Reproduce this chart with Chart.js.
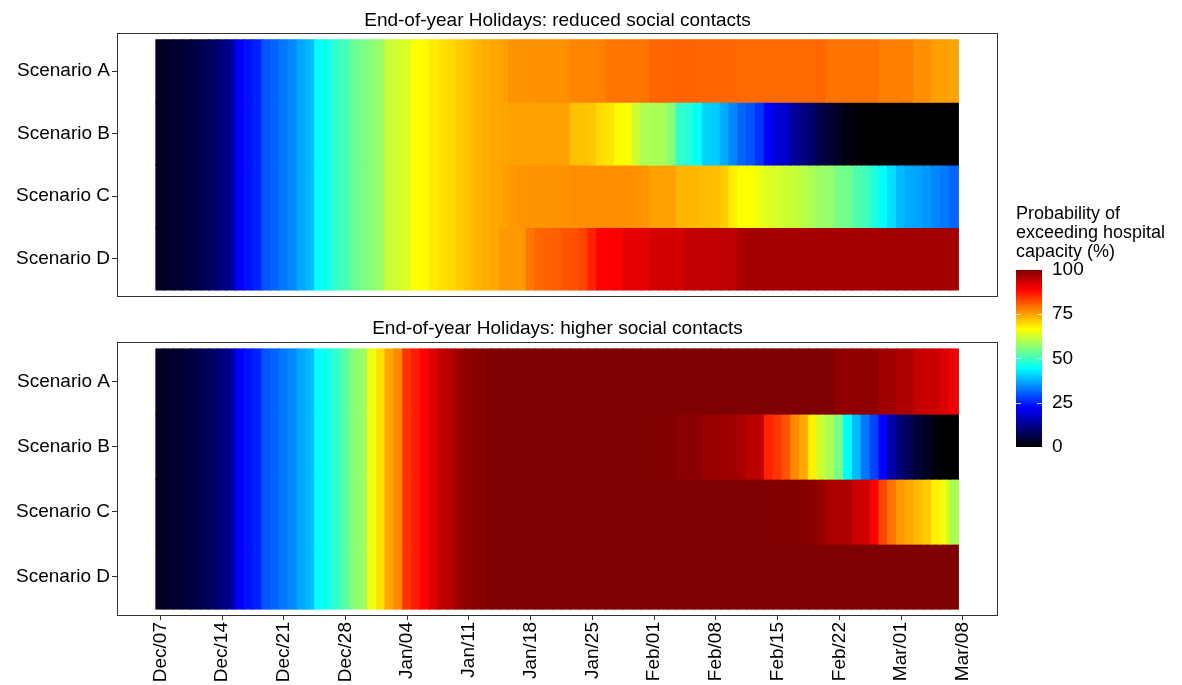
<!DOCTYPE html>
<html>
<head>
<meta charset="utf-8">
<title>Probability of exceeding hospital capacity</title>
<script src="https://cdn.jsdelivr.net/npm/chart.js@4.4.0/dist/chart.umd.min.js"></script>
<style>
  body { margin: 0; background: #fff; }
  #wrap { position: relative; width: 1182px; height: 685px; }
  .box { position: absolute; }
</style>
</head>
<body>
<div id="wrap">
  <div class="box" style="left:0;top:0;width:1000px;height:310px"><canvas id="topChart"></canvas></div>
  <div class="box" style="left:0;top:310px;width:1000px;height:375px"><canvas id="bottomChart"></canvas></div>
  <div class="box" style="left:1000px;top:190px;width:182px;height:280px"><canvas id="legendChart"></canvas></div>
</div>
<script>
"use strict";

let scenarios = ['Scenario A', 'Scenario B', 'Scenario C', 'Scenario D'];
let tickDays = [0, 7, 14, 21, 28, 35, 42, 49, 56, 63, 70, 77, 84, 91];
let tickLabels = ['Dec/07', 'Dec/14', 'Dec/21', 'Dec/28', 'Jan/04', 'Jan/11', 'Jan/18', 'Jan/25', 'Feb/01', 'Feb/08', 'Feb/15', 'Feb/22', 'Mar/01', 'Mar/08'];
let legendTicks = [0, 25, 50, 75, 100];

// one value per day, Dec 07 .. Mar 07
let reducedA = [
  3.0, 3.5, 4.0, 5.0, 5.6, 7.4, 8.4,
  11.1, 13.0, 21.5, 23.7, 25.0, 29.6, 31.0,
  32.8, 34.0, 37.0, 38.5, 44.5, 45.9, 48.9,
  50.4, 53.4, 54.9, 56.3, 57.8, 62.2, 62.5,
  63.7, 66.7, 67.0, 68.5, 69.3, 69.8, 71.0,
  72.0, 73.2, 73.8, 74.2, 74.9, 76.1, 76.1,
  76.1, 76.2, 76.2, 76.2, 76.3, 77.3, 77.3,
  77.3, 77.3, 78.5, 78.5, 78.5, 78.6, 78.6,
  80.0, 80.0, 80.0, 80.1, 80.1, 80.0, 80.0,
  80.0, 80.0, 80.0, 79.6, 79.6, 79.6, 79.6,
  79.6, 79.6, 79.6, 79.6, 79.7, 80.0, 78.7,
  78.7, 78.7, 78.7, 78.7, 78.7, 77.7, 77.7,
  77.7, 77.7, 76.3, 76.3, 75.0, 75.0, 74.5
];
let reducedB = [
  3.0, 3.5, 4.0, 5.0, 5.6, 7.4, 8.4,
  11.1, 13.0, 21.5, 23.7, 25.0, 29.6, 31.0,
  32.8, 34.0, 37.0, 38.5, 44.5, 45.9, 48.9,
  50.4, 53.4, 54.9, 56.3, 57.8, 62.2, 62.5,
  63.7, 66.7, 67.0, 68.5, 69.3, 69.8, 71.0,
  72.0, 73.2, 73.8, 74.2, 74.5, 74.7, 74.8,
  74.8, 74.8, 74.8, 74.8, 74.8, 72.1, 72.0,
  71.5, 69.6, 69.0, 67.0, 66.5, 62.2, 59.5,
  59.3, 59.0, 56.3, 48.9, 47.4, 44.5, 40.5,
  40.0, 37.3, 34.0, 31.1, 29.6, 26.7, 22.2,
  19.3, 17.5, 13.4, 11.2, 8.9, 6.0, 4.5,
  3.0, 1.5, 0.5, 0.3, 0, 0, 0,
  0, 0, 0, 0, 0, 0, 0
];
let reducedC = [
  3.0, 3.5, 4.0, 5.0, 5.6, 7.4, 8.4,
  11.1, 13.0, 21.5, 23.7, 25.0, 29.6, 31.0,
  32.8, 34.0, 37.0, 38.5, 44.5, 45.9, 48.9,
  50.4, 53.4, 54.9, 56.3, 57.8, 62.2, 62.5,
  63.7, 66.7, 67.0, 68.5, 69.3, 69.8, 71.0,
  72.0, 73.2, 73.8, 74.2, 75.0, 75.5, 75.8,
  76.0, 76.0, 76.0, 76.0, 76.0, 76.5, 76.5,
  76.5, 76.5, 76.5, 76.5, 76.5, 76.0, 76.0,
  75.0, 75.0, 75.0, 73.2, 73.0, 72.8, 72.5,
  72.3, 71.1, 68.0, 66.7, 66.5, 65.2, 63.7,
  63.5, 62.2, 62.0, 60.8, 59.3, 57.8, 57.5,
  54.9, 54.5, 51.9, 50.4, 47.4, 44.4, 41.5,
  38.5, 37.0, 36.5, 35.5, 34.0, 32.6, 31.1
];
let reducedD = [
  3.0, 3.5, 4.0, 5.0, 5.6, 7.4, 8.4,
  11.1, 13.0, 21.5, 23.7, 25.0, 29.6, 31.0,
  32.8, 34.0, 37.0, 38.5, 44.5, 45.9, 48.9,
  50.4, 53.4, 54.9, 56.3, 57.8, 62.2, 62.5,
  63.7, 66.7, 67.0, 68.5, 69.3, 69.8, 71.0,
  72.0, 73.2, 73.8, 74.2, 75.5, 75.5, 75.5,
  78.5, 80.0, 80.2, 80.5, 81.5, 81.8, 82.9,
  85.9, 88.9, 89.0, 89.3, 91.1, 91.1, 91.2,
  92.6, 92.6, 92.7, 92.7, 94.4, 94.4, 94.4,
  94.5, 94.5, 94.5, 96.4, 96.4, 96.4, 96.4,
  96.4, 96.4, 96.4, 96.4, 96.4, 96.4, 96.4,
  96.4, 96.4, 96.4, 96.4, 96.4, 96.9, 96.9,
  96.9, 96.9, 96.9, 96.9, 96.9, 96.9, 96.9
];

let higherA = [
  3.0, 3.5, 4.0, 5.0, 5.6, 7.4, 8.4,
  11.1, 13.0, 21.5, 23.7, 25.0, 29.6, 31.0,
  32.8, 34.0, 37.0, 38.5, 44.5, 45.9, 48.9,
  51.9, 56.3, 57.8, 65.2, 69.4, 74.1, 77.0,
  84.4, 86.5, 88.9, 91.8, 94.4, 95.3, 97.7,
  98.4, 99.2, 99.6, 100, 100, 100, 100,
  100, 100, 100, 100, 100, 100, 100,
  100, 100, 100, 100, 100, 100, 100,
  100, 100, 100, 100, 100, 100, 100,
  100, 100, 100, 100, 100, 100, 100,
  100, 100, 100, 100, 100, 100, 100,
  98.5, 98.5, 98.5, 98.5, 98.5, 97.1, 97.1,
  96.3, 96.3, 94.0, 93.5, 93.3, 91.8, 90.2
];
let higherB = [
  3.0, 3.5, 4.0, 5.0, 5.6, 7.4, 8.4,
  11.1, 13.0, 21.5, 23.7, 25.0, 29.6, 31.0,
  32.8, 34.0, 37.0, 38.5, 44.5, 45.9, 48.9,
  51.9, 56.3, 57.8, 65.2, 69.4, 74.1, 77.0,
  84.4, 86.5, 88.9, 91.8, 94.4, 95.3, 97.7,
  98.4, 99.2, 99.6, 100, 100, 100, 100,
  100, 100, 100, 100, 100, 100, 100,
  100, 100, 100, 100, 100, 100, 100,
  99.7, 99.7, 99.7, 99.0, 99.0, 99.0, 97.7,
  97.7, 97.5, 97.1, 96.3, 94.8, 94.5, 85.9,
  84.4, 81.5, 77.0, 74.1, 68.0, 62.2, 59.3,
  54.9, 44.4, 38.5, 32.6, 28.1, 22.2, 14.8,
  10.4, 7.4, 4.5, 3.0, 0.8, 0, 0
];
let higherC = [
  3.0, 3.5, 4.0, 5.0, 5.6, 7.4, 8.4,
  11.1, 13.0, 21.5, 23.7, 25.0, 29.6, 31.0,
  32.8, 34.0, 37.0, 38.5, 44.5, 45.9, 48.9,
  51.9, 56.3, 57.8, 65.2, 69.4, 74.1, 77.0,
  84.4, 86.5, 88.9, 91.8, 94.4, 95.3, 97.7,
  98.4, 99.2, 99.6, 100, 100, 100, 100,
  100, 100, 100, 100, 100, 100, 100,
  100, 100, 100, 100, 100, 100, 100,
  100, 100, 100, 100, 100, 100, 100,
  100, 100, 100, 100, 100, 100, 100,
  99.6, 99.6, 99.6, 99.6, 99.2, 97.7, 96.3,
  96.3, 96.0, 93.5, 93.0, 89.5, 82.9, 78.5,
  75.5, 74.1, 72.6, 71.1, 68.0, 65.2, 59.3
];
let higherD = [
  3.0, 3.5, 4.0, 5.0, 5.6, 7.4, 8.4,
  11.1, 13.0, 21.5, 23.7, 25.0, 29.6, 31.0,
  32.8, 34.0, 37.0, 38.5, 44.5, 45.9, 48.9,
  51.9, 56.3, 57.8, 65.2, 69.4, 74.1, 77.0,
  84.4, 86.5, 88.9, 91.8, 94.4, 95.3, 97.7,
  98.4, 99.2, 99.6, 100, 100, 100, 100,
  100, 100, 100, 100, 100, 100, 100,
  100, 100, 100, 100, 100, 100, 100,
  100, 100, 100, 100, 100, 100, 100,
  100, 100, 100, 100, 100, 100, 100,
  100, 100, 100, 100, 100, 100, 100,
  100, 100, 100, 100, 100, 100, 100,
  100, 100, 100, 100, 100, 100, 100
];

// black + jet palette
let stopValues = [0, 11.11, 22.22, 33.33, 44.44, 55.56, 66.67, 77.78, 88.89, 100];
let stopColors = ['#000000', '#00007F', '#0000FF', '#007FFF', '#00FFFF', '#7FFF7F', '#FFFF00', '#FF7F00', '#FF0000', '#7F0000'];

let fontFamily = '"Liberation Sans", Arial, sans-serif';

function hexToRgb(hex){
    return [parseInt(hex.slice(1, 3), 16), parseInt(hex.slice(3, 5), 16), parseInt(hex.slice(5, 7), 16)];
}

function valueColor(v){
    for (let k = 1; k < stopValues.length; k++){
        if (v <= stopValues[k]){
            let t = (v - stopValues[k - 1]) / (stopValues[k] - stopValues[k - 1]);
            let a = hexToRgb(stopColors[k - 1]);
            let b = hexToRgb(stopColors[k]);
            let c = a.map((x, j) => Math.round(x + (b[j] - x) * t));
            return `rgb(${c[0]},${c[1]},${c[2]})`;
        }
    }
    return stopColors[stopColors.length - 1];
}

const panelBorder = {
    id: 'panelBorder',
    afterDatasetsDraw(chart){
        let ctx = chart.ctx;
        let a = chart.chartArea;
        ctx.save();
        ctx.strokeStyle = '#333333';
        ctx.lineWidth = 1;
        ctx.strokeRect(Math.round(a.left) + 0.5, Math.round(a.top) + 0.5,
            Math.round(a.right - a.left) - 1, Math.round(a.bottom - a.top) - 1);
        ctx.restore();
    }
};

function makePanel(canvasId, title, rows, showDates, titlePad, bottomPad){
    let datasets = [];
    for (let r = 0; r < rows.length; r++){
        datasets.push({
            label: scenarios[r],
            data: rows[r].map((v, i) => ({x: i, y: [r - 0.5, r + 0.5]})),
            backgroundColor: rows[r].map(valueColor),
            barPercentage: 1,
            categoryPercentage: 1,
            grouped: false,
            borderWidth: 0,
            inflateAmount: 0.6   // tiles overlap a little, no seams
        });
    }
    return new Chart(document.getElementById(canvasId), {
        type: 'bar',
        data: {datasets: datasets},
        options: {
            responsive: true,
            maintainAspectRatio: false,
            animation: false,
            layout: {padding: {left: 0, right: 2, top: 0, bottom: bottomPad}},
            plugins: {
                legend: {display: false},
                tooltip: {enabled: false},
                title: {
                    display: true,
                    text: title,
                    fullSize: false,
                    color: '#000000',
                    font: {family: fontFamily, size: 19, weight: 'normal', lineHeight: 1.2},
                    padding: titlePad
                }
            },
            scales: {
                x: {
                    type: 'linear',
                    display: showDates,
                    min: -4.92,
                    max: 95.0,
                    offset: false,
                    afterBuildTicks: s => { s.ticks = tickDays.map(v => ({value: v})); },
                    afterFit: s => { s.height = showDates ? 69 : 0; },
                    grid: {offset: false, drawOnChartArea: false, tickLength: 4, color: '#333333'},
                    border: {display: false},
                    ticks: {
                        autoSkip: false,
                        maxRotation: 90,
                        minRotation: 90,
                        padding: 2,
                        color: '#000000',
                        font: {family: fontFamily, size: 19},
                        callback: (v, i) => tickLabels[i]
                    }
                },
                y: {
                    type: 'linear',
                    reverse: true,
                    min: -0.6077,
                    max: 3.6077,
                    afterBuildTicks: s => { s.ticks = [0, 1, 2, 3].map(v => ({value: v})); },
                    afterFit: s => { s.width = 117; },
                    grid: {drawOnChartArea: false, tickLength: 5, color: '#333333'},
                    border: {display: false},
                    ticks: {
                        padding: 2,
                        color: '#000000',
                        font: {family: fontFamily, size: 19},
                        callback: v => scenarios[v]
                    }
                }
            }
        },
        plugins: [panelBorder]
    });
}

makePanel('topChart', 'End-of-year Holidays: reduced social contacts',
    [reducedA, reducedB, reducedC, reducedD], false, {top: 9, bottom: 1.2}, 3);
makePanel('bottomChart', 'End-of-year Holidays: higher social contacts',
    [higherA, higherB, higherC, higherD], true, {top: 7, bottom: 2.2}, 0);

// colour bar
const barTicks = {
    id: 'barTicks',
    afterDatasetsDraw(chart){
        let ctx = chart.ctx;
        let a = chart.chartArea;
        let y = chart.scales.y;
        ctx.save();
        ctx.strokeStyle = 'rgba(255,255,255,0.8)';
        ctx.lineWidth = 1;
        for (let i = 1; i < legendTicks.length - 1; i++){
            let py = Math.round(y.getPixelForValue(legendTicks[i])) + 0.5;
            ctx.beginPath();
            ctx.moveTo(a.left, py);
            ctx.lineTo(a.left + 5, py);
            ctx.moveTo(a.right - 5, py);
            ctx.lineTo(a.right, py);
            ctx.stroke();
        }
        ctx.restore();
    }
};

function barGradient(context){
    let a = context.chart.chartArea;
    if (!a){
        return stopColors[0];
    }
    let g = context.chart.ctx.createLinearGradient(0, a.bottom, 0, a.top);
    for (let k = 0; k < stopValues.length; k++){
        g.addColorStop(stopValues[k] / 100, stopColors[k]);
    }
    return g;
}

new Chart(document.getElementById('legendChart'), {
    type: 'bar',
    data: {
        labels: [''],
        datasets: [{
            data: [[legendTicks[0], legendTicks[legendTicks.length - 1]]],
            backgroundColor: barGradient,
            barPercentage: 1,
            categoryPercentage: 1,
            borderWidth: 0,
            inflateAmount: 0
        }]
    },
    options: {
        responsive: true,
        maintainAspectRatio: false,
        animation: false,
        layout: {padding: {left: 16, right: 0, top: 0, bottom: 23}},
        plugins: {
            legend: {display: false},
            tooltip: {enabled: false},
            title: {
                display: true,
                text: ['Probability of', 'exceeding hospital', 'capacity (%)'],
                align: 'start',
                color: '#000000',
                font: {family: fontFamily, size: 18, weight: 'normal', lineHeight: 1.07},
                padding: {top: 14, bottom: 8}
            }
        },
        scales: {
            x: {display: false},
            y: {
                position: 'right',
                min: 0,
                max: 100,
                afterBuildTicks: s => { s.ticks = legendTicks.map(v => ({value: v})); },
                afterFit: s => { s.width = 140; },
                grid: {display: false, drawTicks: false},
                border: {display: false},
                ticks: {
                    padding: 10,
                    color: '#000000',
                    font: {family: fontFamily, size: 19}
                }
            }
        }
    },
    plugins: [barTicks]
});
</script>
</body>
</html>
